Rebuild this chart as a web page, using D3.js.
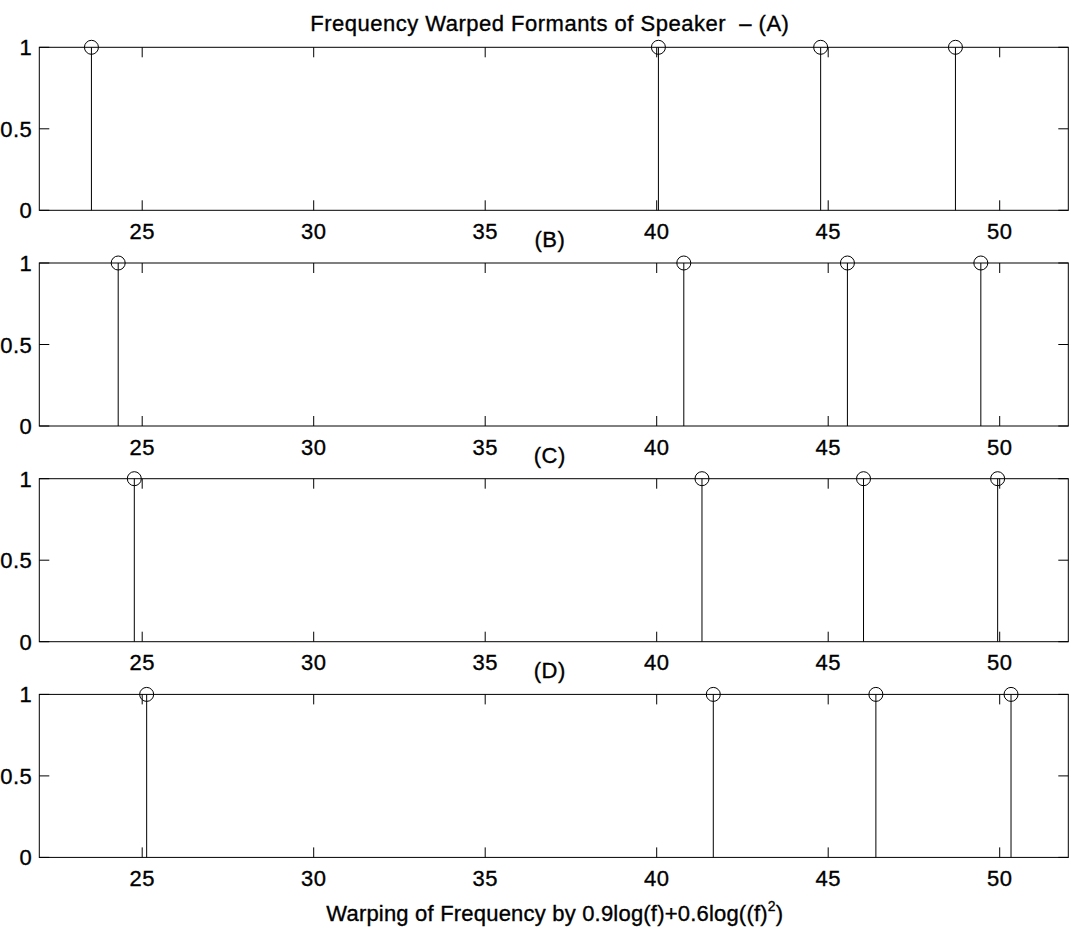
<!DOCTYPE html>
<html>
<head>
<meta charset="utf-8">
<script src="https://cdn.jsdelivr.net/npm/d3@7"></script>
<style>
  body { margin: 0; background: #fff; }
  text { font-family: "Liberation Sans", Arial, Helvetica, sans-serif; fill: #000;
         stroke: #000; stroke-width: 0.35px; letter-spacing: 0.5px; white-space: pre; }
  text.xlabel { letter-spacing: 0.2px; }
</style>
</head>
<body>
<svg id="chart" width="1077" height="928"></svg>
<script>
// formant positions (warped frequency) for each speaker panel
const panelLabels = ["(A)", "(B)", "(C)", "(D)"];
const formantsA = [23.52, 40.05, 44.78, 48.71];
const formantsB = [24.30, 40.79, 45.56, 49.45];
const formantsC = [24.77, 41.32, 46.03, 49.94];
const formantsD = [25.13, 41.65, 46.39, 50.33];
const amplitudes = [1, 1, 1, 1];
const xTicks = [25, 30, 35, 40, 45, 50];
const yTicks = [0, 0.5, 1];

const titleText = "Frequency Warped Formants of Speaker  \u2013 (A)";
const xLabelText = "Warping of Frequency by 0.9log(f)+0.6log((f)";

const svg = d3.select("#chart");

const left = 39.3, right = 1068.3;
const panelH = 163, firstTop = 47.3, step = 215.7;
const tickLen = 10;
const fs = 22;

const x = d3.scaleLinear().domain([22, 52]).range([left, right]);

const panels = [formantsA, formantsB, formantsC, formantsD];

panels.forEach((vals, i) => {
  const top = firstTop + i * step;
  const y = d3.scaleLinear().domain([0, 1]).range([top + panelH, top]);
  const g = svg.append("g");

  // axes box
  g.append("rect")
    .attr("x", left).attr("y", top)
    .attr("width", right - left).attr("height", panelH)
    .attr("fill", "none").attr("stroke", "#000").attr("stroke-width", 1);

  // x ticks (bottom + top, pointing inward)
  xTicks.forEach(t => {
    g.append("line").attr("x1", x(t)).attr("x2", x(t))
      .attr("y1", y(0)).attr("y2", y(0) - tickLen).attr("stroke", "#000");
    g.append("line").attr("x1", x(t)).attr("x2", x(t))
      .attr("y1", y(1)).attr("y2", y(1) + tickLen).attr("stroke", "#000");
    g.append("text").attr("x", x(t)).attr("y", y(0) + 28.5)
      .attr("text-anchor", "middle").attr("font-size", fs).text(t);
  });

  // y ticks (left + right)
  yTicks.forEach(t => {
    g.append("line").attr("x1", left).attr("x2", left + tickLen)
      .attr("y1", y(t)).attr("y2", y(t)).attr("stroke", "#000");
    g.append("line").attr("x1", right).attr("x2", right - tickLen)
      .attr("y1", y(t)).attr("y2", y(t)).attr("stroke", "#000");
    g.append("text").attr("x", left - 7).attr("y", y(t) + 8)
      .attr("text-anchor", "end").attr("font-size", fs).text(t);
  });

  // stems
  g.selectAll(".stem").data(vals).join("line")
    .attr("class", "stem")
    .attr("x1", d => x(d)).attr("x2", d => x(d))
    .attr("y1", y(0)).attr("y2", (d, j) => y(amplitudes[j]))
    .attr("stroke", "#000").attr("stroke-width", 1);

  g.selectAll(".mark").data(vals).join("circle")
    .attr("class", "mark")
    .attr("cx", d => x(d)).attr("cy", (d, j) => y(amplitudes[j]))
    .attr("r", 7).attr("fill", "none").attr("stroke", "#000").attr("stroke-width", 1);

  // panel title
  g.append("text").attr("x", (left + right) / 2 - 4).attr("y", top - 16)
    .attr("text-anchor", "middle").attr("font-size", fs)
    .text(i === 0 ? titleText : panelLabels[i]);
});

// x axis label with superscript
const xl = svg.append("text").attr("class", "xlabel")
  .attr("x", (left + right) / 2 + 1).attr("y", 921)
  .attr("text-anchor", "middle").attr("font-size", fs);
xl.append("tspan").text(xLabelText);
xl.append("tspan").attr("dy", -10).attr("font-size", 14).text("2");
xl.append("tspan").attr("dy", 10).text(")");
</script>
</body>
</html>
